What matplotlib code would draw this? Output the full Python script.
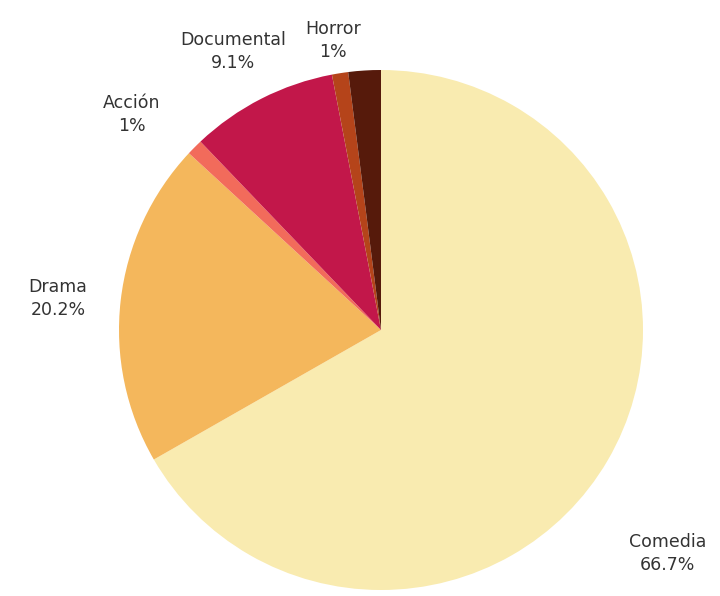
import matplotlib.pyplot as plt

# slices, clockwise from 12 o'clock
genres = ['Comedia', 'Drama', 'Acción', 'Documental', 'Horror', '']
shares = [66.7, 20.2, 1.0, 9.1, 1.0, 2.0]
pct_text = ['66.7%', '20.2%', '1%', '9.1%', '1%', '']
colors = ['#f9ebb0', '#f4b75c', '#f26b5b', '#c2174a', '#b5441a', '#561a0b']

# where each outside label sits (data units, radius = 1)
label_pos = [(1.095, -0.86), (-1.233, 0.12), (-0.95, 0.83),
             (-0.565, 1.07), (-0.183, 1.115), None]

fig = plt.figure(figsize=(7.2, 5.96), dpi=100)
ax = fig.add_axes([119 / 720, 6 / 596, 524 / 720, 520 / 596])

wedges, _ = ax.pie(shares, colors=colors, startangle=90, counterclock=False,
                   radius=1, wedgeprops=dict(linewidth=0))

for name, pct, pos in zip(genres, pct_text, label_pos):
    if pos is None:
        continue
    ax.text(pos[0], pos[1], name + '\n' + pct, ha='center', va='center',
            fontsize=12.5, color='#333333', family=['DejaVu Sans'],
            linespacing=1.35, clip_on=False)

ax.set_xlim(-1, 1)
ax.set_ylim(-1, 1)
ax.set_aspect('auto')
ax.axis('off')

fig.savefig('out.png', dpi=100)
